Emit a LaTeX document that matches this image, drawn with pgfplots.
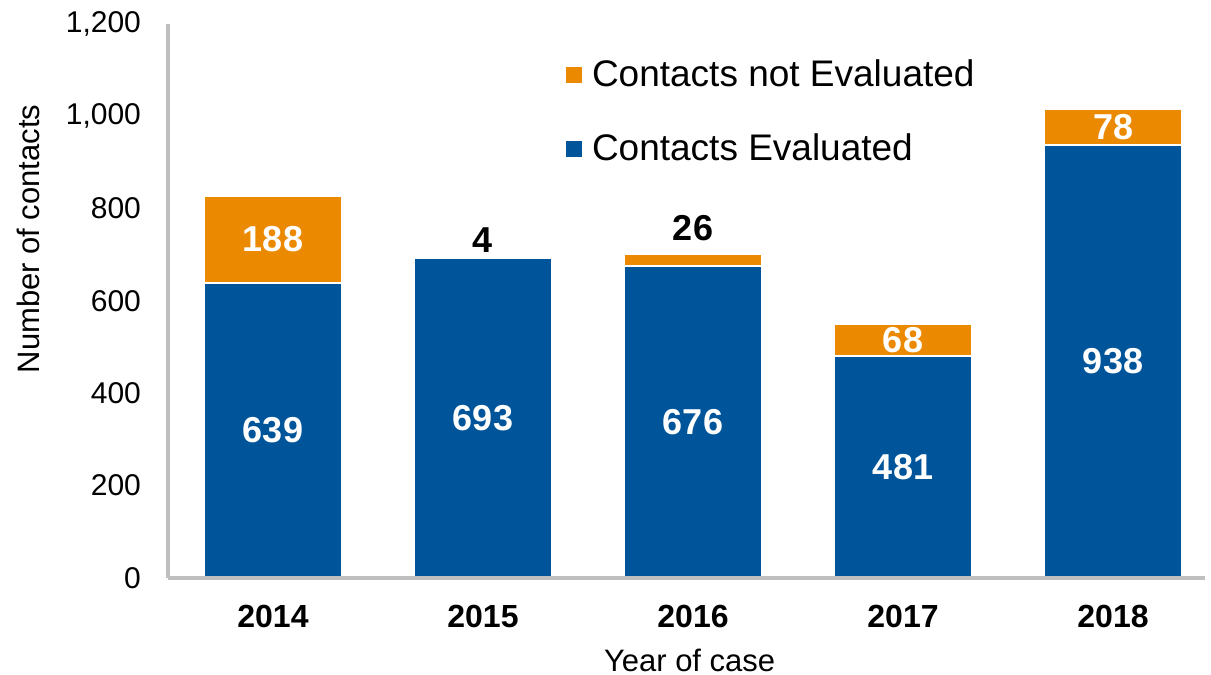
\documentclass[border=0pt]{standalone}
\usepackage{pgfplots}
\pgfplotsset{compat=1.18}
\usepackage{fontspec}
\setmainfont{Liberation Sans}
\definecolor{cblue}{HTML}{00559A}
\definecolor{corange}{HTML}{EB8A00}
\definecolor{axgrey}{HTML}{BFBFBF}
\begin{document}
\begin{tikzpicture}
\begin{axis}[
  axis on top,
  scale only axis, width=518.5pt, height=277pt,
  at={(0,0)}, anchor=south west,
  ybar stacked, bar width=69pt,
  xmin=-0.5, xmax=4.438, ymin=0, ymax=1200,
  xtick={0,1,2,3,4}, xticklabels={2014,2015,2016,2017,2018},
  ytick={0,200,...,1200},
  axis x line=bottom, axis y line=left,
  axis line style={-, draw=axgrey, line width=1.6pt},
  major tick length=0pt,
  /pgf/number format/1000 sep={,},
  /pgf/number format/assume math mode=true,
  yticklabel style={font=\fontsize{15}{18}\selectfont, anchor=east, xshift=-10pt},
  xticklabel style={font=\bfseries\fontsize{16}{19}\selectfont, anchor=center, yshift=-19pt},
  ylabel={Number of contacts},
  ylabel style={font=\fontsize{15.5}{18}\selectfont, at={(axis description cs:-0.135,0.612)}, anchor=center},
  xlabel={Year of case},
  xlabel style={font=\fontsize{15.5}{18}\selectfont, at={(axis description cs:0.503,-0.148)}, anchor=center},
  legend style={at={(axis description cs:0.3838,1)}, anchor=north west, yshift=-18pt,
    draw=none, fill=none, inner sep=0pt, outer sep=0pt, row sep=22pt,
    font=\fontsize{18.5}{22}\selectfont,
    nodes={inner sep=0pt, anchor=west},
    /tikz/every odd column/.append style={column sep=5pt}},
  legend cell align=left,
  reverse legend,
  legend image code/.code={\fill[#1,draw=none] (0pt,-4pt) rectangle (8pt,4pt);},
]
\addplot[fill=cblue, draw=white, line width=0.7pt] coordinates {(0,639) (1,693) (2,676) (3,481) (4,938)};
\addlegendentry{Contacts Evaluated}
\addplot[fill=corange, draw=white, line width=0.7pt] coordinates {(0,188) (1,4) (2,26) (3,68) (4,78)};
\addlegendentry{Contacts not Evaluated}
\coordinate (a0) at (axis cs:0,319.5);
\coordinate (b0) at (axis cs:0,733);
\coordinate (a1) at (axis cs:1,346.5);
\coordinate (b1) at (axis cs:1,732);
\coordinate (a2) at (axis cs:2,338);
\coordinate (b2) at (axis cs:2,758);
\coordinate (a3) at (axis cs:3,240.5);
\coordinate (b3) at (axis cs:3,515);
\coordinate (a4) at (axis cs:4,469);
\coordinate (b4) at (axis cs:4,977);
\end{axis}
\begin{scope}[every node/.style={font=\bfseries\fontsize{18}{21}\selectfont, text=white}]
\node at (a0) {639};
\node at (b0) {188};
\node at (a1) {693};
\node[text=black] at (b1) {4};
\node at (a2) {676};
\node[text=black] at (b2) {26};
\node at (a3) {481};
\node at (b3) {68};
\node at (a4) {938};
\node at (b4) {78};
\end{scope}
\pgfresetboundingbox
\path[use as bounding box] (-84pt,-48.5pt) rectangle (521.5pt,289pt);
\end{tikzpicture}
\end{document}
